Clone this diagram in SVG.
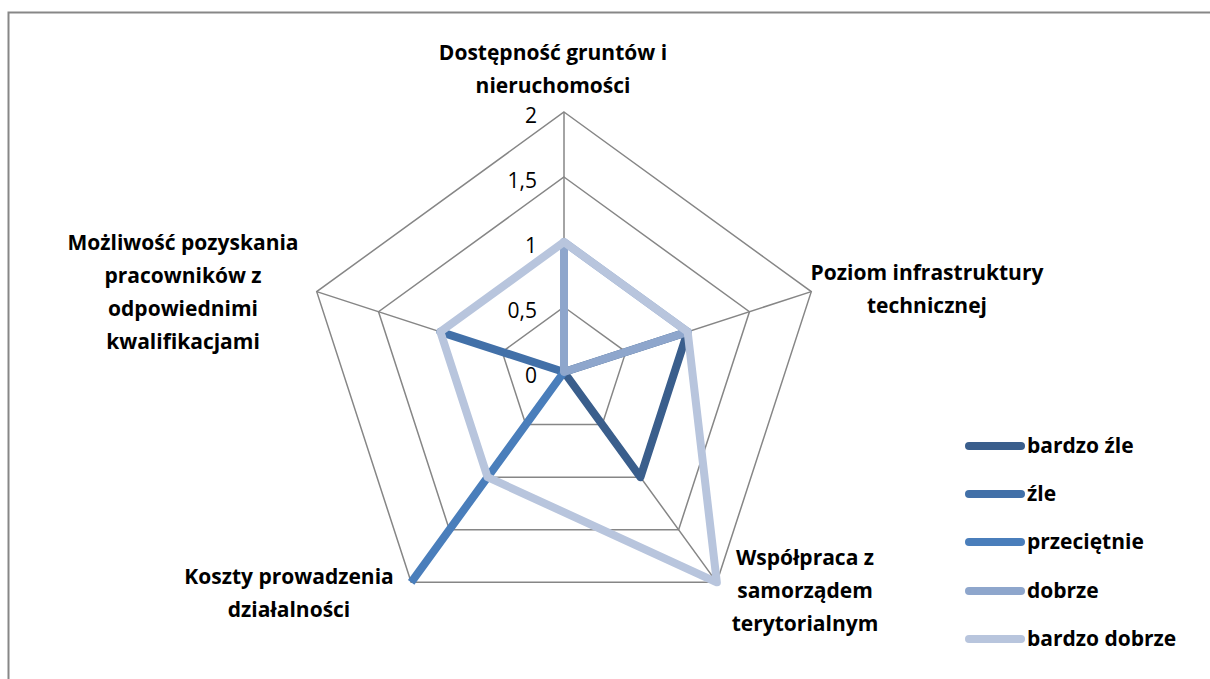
<svg xmlns="http://www.w3.org/2000/svg" width="1210" height="679" viewBox="0 0 1210 679">
<style>
.grid{fill:none;stroke:#868686;stroke-width:1.5}
.lbl{font-family:"Open Sans","Liberation Sans",sans-serif;font-weight:bold;font-size:21px;fill:#000;text-anchor:middle}
.tick{font-family:"Open Sans","Liberation Sans",sans-serif;font-size:21px;fill:#000;text-anchor:end}
.leg{font-family:"Open Sans","Liberation Sans",sans-serif;font-weight:bold;font-size:21px;fill:#000}
.s{fill:none;stroke-width:8;stroke-linejoin:round}
.ll{stroke-width:8;stroke-linecap:round}
</style>
<rect x="0" y="0" width="1210" height="679" fill="#fff"/>
<rect x="8.5" y="12.5" width="1300" height="800" fill="none" stroke="#878787" stroke-width="2"/>
<g id="grid">
<polygon class="grid" points="564,307 625.82,351.91 602.21,424.59 525.79,424.59 502.18,351.91"/>
<polygon class="grid" points="564,242 687.64,331.83 640.41,477.17 487.59,477.17 440.36,331.83"/>
<polygon class="grid" points="564,177 749.46,311.74 678.62,529.76 449.38,529.76 378.54,311.74"/>
<polygon class="grid" points="564,112 811.28,291.65 716.83,582.35 411.17,582.35 316.72,291.65"/>
<path class="grid" d="M564,372L564,112M564,372L811.28,291.65M564,372L716.83,582.35M564,372L411.17,582.35M564,372L316.72,291.65"/>
</g>
<g id="ticks">
<text class="tick" x="537" y="123">2</text>
<text class="tick" x="537" y="188">1,5</text>
<text class="tick" x="537" y="253">1</text>
<text class="tick" x="537" y="318">0,5</text>
<text class="tick" x="537" y="383">0</text>
</g>
<g id="connectors">
<polygon id="s-bardzo-zle" class="s" stroke="#3A5E8C" points="564,372 687.64,331.83 640.41,477.17 564,372 564,372"/>
<polygon id="s-zle" class="s" stroke="#4270A8" points="564,372 564,372 564,372 564,372 440.36,331.83"/>
<polygon id="s-przecietnie" class="s" stroke="#4A7EBB" style="stroke-linejoin:miter" points="564,372 564,372 564,372 411.17,582.35 564,372"/>
<polygon id="s-dobrze" class="s" stroke="#8EA6CC" points="564,242 687.64,331.83 564,372 564,372 564,372"/>
<polygon id="s-bardzo-dobrze" class="s" stroke="#B8C5DD" points="564,242 687.64,331.83 716.83,582.35 487.59,477.17 440.36,331.83"/>
</g>
<g id="axis-top"><text class="lbl" x="553" y="60">Dostępność gruntów i</text><text class="lbl" x="553" y="93">nieruchomości</text></g>
<g id="axis-right"><text class="lbl" x="927" y="280">Poziom infrastruktury</text><text class="lbl" x="927" y="313">technicznej</text></g>
<g id="axis-bottom-right"><text class="lbl" x="805" y="565">Współpraca z</text><text class="lbl" x="805" y="598">samorządem</text><text class="lbl" x="805" y="631">terytorialnym</text></g>
<g id="axis-bottom-left"><text class="lbl" x="289" y="584">Koszty prowadzenia</text><text class="lbl" x="289" y="617">działalności</text></g>
<g id="axis-left"><text class="lbl" x="183" y="250">Możliwość pozyskania</text><text class="lbl" x="183" y="283">pracowników z</text><text class="lbl" x="183" y="316">odpowiednimi</text><text class="lbl" x="183" y="349">kwalifikacjami</text></g>
<g id="legend">
<line class="ll" x1="969" y1="446" x2="1021" y2="446" stroke="#3A5E8C"/><text class="leg" x="1027" y="453">bardzo źle</text>
<line class="ll" x1="969" y1="494" x2="1021" y2="494" stroke="#4270A8"/><text class="leg" x="1027" y="501">źle</text>
<line class="ll" x1="969" y1="542" x2="1021" y2="542" stroke="#4A7EBB"/><text class="leg" x="1027" y="549">przeciętnie</text>
<line class="ll" x1="969" y1="591" x2="1021" y2="591" stroke="#8EA6CC"/><text class="leg" x="1027" y="598">dobrze</text>
<line class="ll" x1="969" y1="639" x2="1021" y2="639" stroke="#B8C5DD"/><text class="leg" x="1027" y="646">bardzo dobrze</text>
</g>
</svg>
